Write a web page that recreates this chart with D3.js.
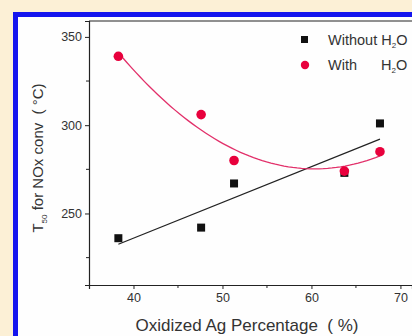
<!DOCTYPE html>
<html><head><meta charset="utf-8">
<script src="https://cdn.jsdelivr.net/npm/d3@7"></script>
<style>html,body{margin:0;padding:0;background:#fcf0d6;}svg{display:block;}</style>
</head><body>
<svg id="c" width="412" height="336"></svg>
<script>
const xWithout = [38.3, 47.6, 51.3, 63.7, 67.7];
const yWithout = [236, 242, 267, 273, 301];
const xWith = [38.3, 47.6, 51.3, 63.7, 67.7];
const yWith = [339, 306, 280, 274, 285];
const xTicks = [40, 50, 60, 70];
const yTicks = [250, 300, 350];
const xMinor = [45, 55, 65];
const yMinor = [225, 275, 325];

const svg = d3.select("#c");
svg.append("rect").attr("x",0).attr("y",0).attr("width",412).attr("height",336).attr("fill","#fcf0d6");
svg.append("rect").attr("x",13).attr("y",12).attr("width",420).attr("height",340).attr("fill","#1515ee");
svg.append("rect").attr("x",18).attr("y",17).attr("width",420).attr("height",340).attr("fill","#fefefe");

const x = d3.scaleLinear().domain([35, 71.3]).range([89, 412]);
const y = d3.scaleLinear().domain([209.5, 359]).range([285, 21]);
const font = "Liberation Sans, Arial, sans-serif";

svg.append("line").attr("x1",89).attr("x2",412).attr("y1",21).attr("y2",21).attr("stroke","#222").attr("stroke-width",1.2);

const gx = svg.append("g").attr("transform","translate(0,285)")
  .call(d3.axisBottom(x).tickValues(xTicks).tickSize(4).tickPadding(4).tickFormat(d3.format("d")));
const gy = svg.append("g").attr("transform","translate(89,0)")
  .call(d3.axisLeft(y).tickValues(yTicks).tickSize(4).tickPadding(3).tickFormat(d3.format("d")));
[gx, gy].forEach(g => {
  g.select(".domain").attr("stroke","#222").attr("stroke-width",1.2);
  g.selectAll(".tick line").attr("stroke","#222");
  g.selectAll(".tick text").attr("font-family",font).attr("font-size",12.5).attr("fill","#333");
});
svg.append("g").selectAll("line").data(xMinor).join("line")
  .attr("x1",d=>x(d)).attr("x2",d=>x(d)).attr("y1",285).attr("y2",288).attr("stroke","#222");
svg.append("g").selectAll("line").data(yMinor).join("line")
  .attr("x1",86).attr("x2",89).attr("y1",d=>y(d)).attr("y2",d=>y(d)).attr("stroke","#222");

function linfit(xs, ys){
  const n=xs.length, mx=d3.mean(xs), my=d3.mean(ys);
  let sxy=0,sxx=0; for(let i=0;i<n;i++){sxy+=(xs[i]-mx)*(ys[i]-my);sxx+=(xs[i]-mx)**2;}
  const b=sxy/sxx; return v=>my+b*(v-mx);
}
function quadfit(xs, ys){
  const S=k=>d3.sum(xs,v=>v**k), T=k=>d3.sum(xs.map((v,i)=>ys[i]*v**k));
  const A=[[S(0),S(1),S(2)],[S(1),S(2),S(3)],[S(2),S(3),S(4)]], B=[T(0),T(1),T(2)];
  for(let i=0;i<3;i++){for(let j=i+1;j<3;j++){const f=A[j][i]/A[i][i];for(let k=i;k<3;k++)A[j][k]-=f*A[i][k];B[j]-=f*B[i];}}
  const c=[0,0,0];for(let i=2;i>=0;i--){let s=B[i];for(let k=i+1;k<3;k++)s-=A[i][k]*c[k];c[i]=s/A[i][i];}
  return v=>c[0]+c[1]*v+c[2]*v*v;
}
const lf = linfit(xWithout, yWithout);
const qf = quadfit(xWith, yWith);
const x0 = d3.min(xWith), x1 = d3.max(xWith);
const xsLine = d3.range(0, 61).map(i => x0 + (x1-x0)*i/60);
const line = d3.line().x(d=>x(d[0])).y(d=>y(d[1]));
svg.append("path").attr("d", line([[d3.min(xWithout), lf(d3.min(xWithout))],[d3.max(xWithout), lf(d3.max(xWithout))]]))
  .attr("fill","none").attr("stroke","#222").attr("stroke-width",1.2);
svg.append("path").attr("d", line(xsLine.map(v=>[v, qf(v)])))
  .attr("fill","none").attr("stroke","#e2306a").attr("stroke-width",1.3);

svg.append("g").selectAll("rect").data(xWithout.map((v,i)=>[v,yWithout[i]])).join("rect")
  .attr("x",d=>x(d[0])-4).attr("y",d=>y(d[1])-4).attr("width",8).attr("height",8).attr("fill","#111");
svg.append("g").selectAll("circle").data(xWith.map((v,i)=>[v,yWith[i]])).join("circle")
  .attr("cx",d=>x(d[0])).attr("cy",d=>y(d[1])).attr("r",4.8).attr("fill","#e8003c");

// legend
svg.append("rect").attr("x",301).attr("y",36).attr("width",7).attr("height",7).attr("fill","#111");
svg.append("circle").attr("cx",305).attr("cy",65).attr("r",4.2).attr("fill","#e8003c");
const lfs = 14.5;
const t1 = svg.append("text").attr("x",328).attr("y",45).attr("font-family",font).attr("font-size",lfs).attr("fill","#333");
t1.append("tspan").text("Without H");
t1.append("tspan").attr("font-size",8).attr("dy",3).text("2");
t1.append("tspan").attr("dy",-3).text("O");
svg.append("text").attr("x",328).attr("y",70).attr("font-family",font).attr("font-size",lfs).attr("fill","#333").text("With");
const t3 = svg.append("text").attr("x",381).attr("y",70).attr("font-family",font).attr("font-size",lfs).attr("fill","#333");
t3.append("tspan").text("H");
t3.append("tspan").attr("font-size",8).attr("dy",3).text("2");
t3.append("tspan").attr("dy",-3).text("O");

// axis titles
svg.append("text").attr("x",247).attr("y",331).attr("text-anchor","middle").attr("font-family",font).attr("font-size",17).attr("fill","#333")
  .attr("xml:space","preserve").style("white-space","pre")
  .text("Oxidized Ag Percentage  ( %)");
const yt = svg.append("text").attr("transform","translate(43,158) rotate(-90)").attr("text-anchor","middle")
  .attr("font-family",font).attr("font-size",15).attr("fill","#333").style("white-space","pre");
yt.append("tspan").text("T");
yt.append("tspan").attr("font-size",8).attr("dy",4).text("50");
yt.append("tspan").attr("dy",-4).text(" for NOx conv  ( °C)");
</script>
</body></html>
